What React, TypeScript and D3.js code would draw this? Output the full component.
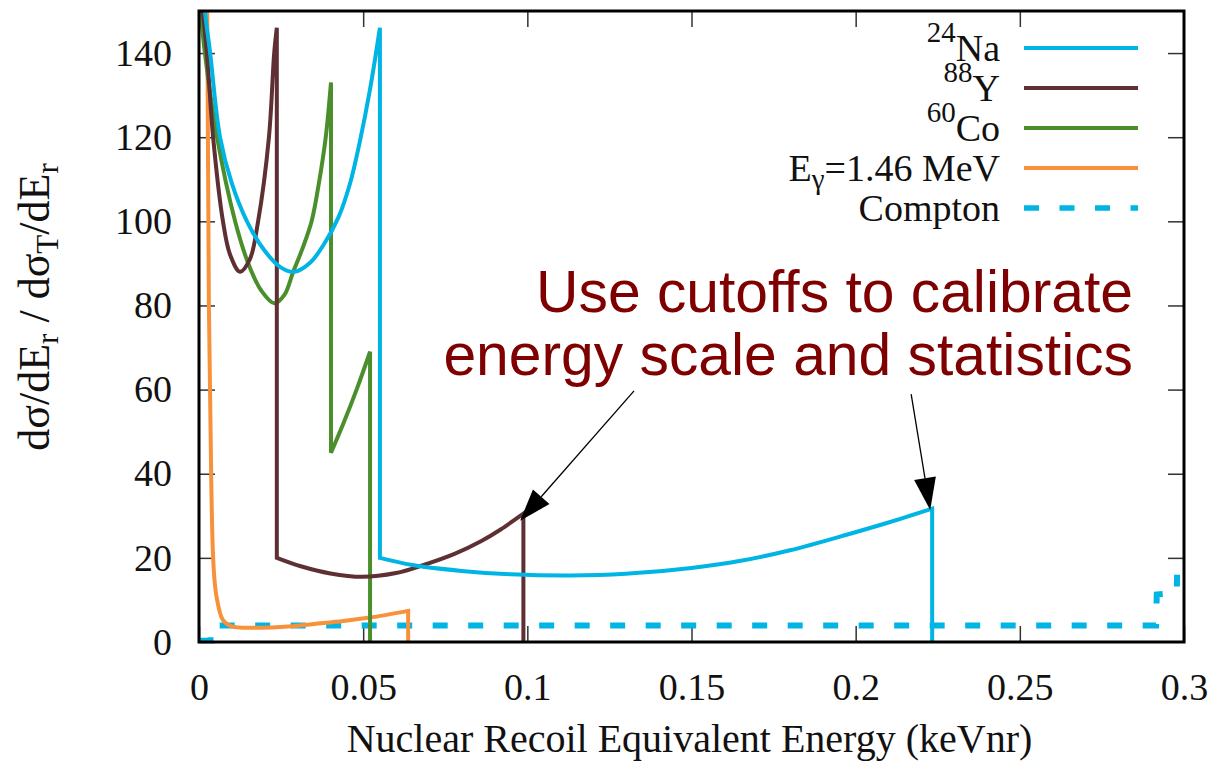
import React, { useEffect, useRef } from 'react'
import * as d3 from 'd3'

// recoil spectra, [E (keVnr), ratio]
const naPoints = [
  [0, 168], [0.0018, 150], [0.0034, 140], [0.0064, 120], [0.010, 109], [0.0146, 100],
  [0.020, 93], [0.025, 89], [0.029, 88], [0.034, 90.3], [0.038, 94.5], [0.0425, 101],
  [0.046, 109], [0.049, 119], [0.052, 131], [0.0551, 146], [0.0551, 20], [0.065, 18.3],
  [0.08, 16.9], [0.095, 16.1], [0.113, 15.8], [0.13, 16.2], [0.15, 17.6], [0.165, 19.3],
  [0.18, 21.8], [0.1986, 25.8], [0.21, 28.4], [0.2233, 31.7], [0.2233, 0]
]
const yPoints = [
  [0, 158], [0.0024, 140], [0.0043, 120], [0.0073, 100], [0.0095, 92], [0.0125, 88],
  [0.0155, 91], [0.018, 100], [0.0213, 120], [0.0229, 140], [0.0237, 146], [0.0237, 20],
  [0.031, 18], [0.04, 16.3], [0.0497, 15.5], [0.06, 16.4], [0.068, 18.2], [0.078, 21],
  [0.086, 24], [0.092, 26.8], [0.0988, 30.5], [0.0988, 0]
]
const coPoints = [
  [0, 154], [0.0018, 140], [0.0055, 120], [0.011, 100], [0.015, 90], [0.019, 83.5],
  [0.023, 80.5], [0.026, 82.5], [0.0287, 88], [0.0315, 93.5], [0.0343, 100], [0.0365, 109],
  [0.0386, 120], [0.0402, 133], [0.0402, 45], [0.044, 52], [0.048, 60], [0.0521, 69], [0.0521, 0]
]
const gammaPoints = [
  [0.0022, 160], [0.0025, 150], [0.0030, 81], [0.0037, 40], [0.0042, 22], [0.0047, 15],
  [0.0054, 10.5], [0.0073, 5.2], [0.010, 3.7], [0.018, 3.4], [0.026, 3.6], [0.035, 4.3],
  [0.044, 5.0], [0.052, 5.8], [0.0637, 7.4], [0.0637, 0]
]
const comptonPoints = [
  [0, 0.3], [0.0035, 0.3], [0.0036, 3.9], [0.2915, 3.9], [0.2917, 11.3], [0.2978, 11.7],
  [0.2979, 16]
]

const xTicks = [0, 0.05, 0.1, 0.15, 0.2, 0.25, 0.3]
const yTicks = [0, 20, 40, 60, 80, 100, 120, 140]

// arrows: [from, to] in data units
const arrows = [
  [[0.1325, 59.7], [0.0978, 28.8]],
  [[0.2169, 58.9], [0.2227, 31.4]]
]

const series = [
  { key: 'na', pts: naPoints, color: '#00b4e4', dash: null, width: 4, label: ['24', 'Na'] },
  { key: 'y', pts: yPoints, color: '#5e3033', dash: null, width: 4, label: ['88', 'Y'] },
  { key: 'co', pts: coPoints, color: '#4b8f2c', dash: null, width: 4, label: ['60', 'Co'] },
  { key: 'g', pts: gammaPoints, color: '#f7923a', dash: null, width: 4, label: null },
  { key: 'c', pts: comptonPoints, color: '#00b4e4', dash: '15 20.5', width: 6, label: null }
]

export default function App() {
  const ref = useRef(null)

  useEffect(() => {
    const W = 1227, H = 761
    const margin = { top: 11, right: 43, bottom: 119, left: 199 }
    const serif = 'Liberation Serif, Times New Roman, serif'

    const root = d3.select(ref.current)
    root.selectAll('*').remove()
    const svg = root.append('svg')
      .attr('width', W)
      .attr('height', H)
      .style('position', 'absolute')
      .style('left', 0)
      .style('top', 0)
      .style('background', '#fff')

    const x = d3.scaleLinear().domain([0, 0.3]).range([margin.left, W - margin.right])
    const y = d3.scaleLinear().domain([0, 150]).range([H - margin.bottom, margin.top])
    const x0 = x(0), x1 = x(0.3), y0 = y(0), y1 = y(150)

    svg.append('defs').append('clipPath').attr('id', 'plotclip')
      .append('rect').attr('x', x0).attr('y', y1).attr('width', x1 - x0).attr('height', y0 - y1)

    // axes, ticks inward on all sides
    const styleAxis = (g) => {
      g.select('.domain').remove()
      g.selectAll('.tick line').attr('stroke', '#333').attr('stroke-width', 1.5)
      g.selectAll('text').attr('font-family', serif).attr('font-size', 38).attr('fill', '#111')
    }
    svg.append('g').attr('transform', `translate(0,${y0})`)
      .call(d3.axisBottom(x).tickValues(xTicks).tickFormat(d3.format('')).tickSize(-16).tickPadding(31))
      .call(styleAxis)
    svg.append('g').attr('transform', `translate(0,${y1})`)
      .call(d3.axisTop(x).tickValues(xTicks.slice(1, -1)).tickFormat(() => '').tickSize(-16))
      .call(styleAxis)
    svg.append('g').attr('transform', `translate(${x0},0)`)
      .call(d3.axisLeft(y).tickValues(yTicks).tickSize(-16).tickPadding(27))
      .call(styleAxis)
    svg.append('g').attr('transform', `translate(${x1},0)`)
      .call(d3.axisRight(y).tickValues(yTicks.slice(1)).tickFormat(() => '').tickSize(-16))
      .call(styleAxis)

    // curves: smooth pieces, joined by straight drops where x repeats
    const smooth = d3.line().x(d => x(d[0])).y(d => y(d[1])).curve(d3.curveCatmullRom.alpha(0.5))
    const pathFor = (pts) => {
      const pieces = []
      let cur = [pts[0]]
      for (let i = 1; i < pts.length; i++) {
        if (pts[i][0] === pts[i - 1][0]) {
          pieces.push(cur)
          cur = [pts[i]]
        } else cur.push(pts[i])
      }
      pieces.push(cur)
      return pieces.map((p, i) => {
        const d = p.length > 1 ? smooth(p) : `M${x(p[0][0])},${y(p[0][1])}`
        return i === 0 ? d : 'L' + d.slice(1)
      }).join('')
    }
    const plot = svg.append('g').attr('clip-path', 'url(#plotclip)')
    series.slice().reverse().forEach(s => {
      plot.append('path')
        .attr('d', s.key === 'c' ? d3.line().x(d => x(d[0])).y(d => y(d[1]))(s.pts) : pathFor(s.pts))
        .attr('fill', 'none')
        .attr('stroke', s.color)
        .attr('stroke-width', s.width)
        .attr('stroke-linejoin', 'miter')
        .attr('stroke-dasharray', s.dash)
    })

    // frame
    svg.append('rect')
      .attr('x', x0).attr('y', y1).attr('width', x1 - x0).attr('height', y0 - y1)
      .attr('fill', 'none').attr('stroke', '#000').attr('stroke-width', 3)

    // legend
    const leg = svg.append('g')
    const rows = [48, 88, 128, 168, 208]
    series.forEach((s, i) => {
      const ry = rows[i]
      leg.append('line')
        .attr('x1', 1024).attr('x2', 1138).attr('y1', ry).attr('y2', ry)
        .attr('stroke', s.color).attr('stroke-width', s.width === 6 ? 5.5 : 4)
        .attr('stroke-dasharray', s.dash)
      const t = leg.append('text')
        .attr('x', 1000).attr('y', ry + 13)
        .attr('text-anchor', 'end')
        .attr('font-family', serif).attr('font-size', 38).attr('fill', '#111')
      if (s.label) {
        t.append('tspan').attr('font-size', 29).attr('dy', -19).text(s.label[0])
        t.append('tspan').attr('dy', 19).text(s.label[1])
      } else if (s.key === 'g') {
        t.append('tspan').text('E')
        t.append('tspan').attr('font-size', 29).attr('dy', 8).text('γ')
        t.append('tspan').attr('dy', -8).text('=1.46 MeV')
      } else {
        t.text('Compton')
      }
    })

    // axis titles
    svg.append('text')
      .attr('x', (x0 + x1) / 2 - 2).attr('y', 752)
      .attr('text-anchor', 'middle')
      .attr('font-family', serif).attr('font-size', 40).attr('fill', '#111')
      .text('Nuclear Recoil Equivalent Energy (keVnr)')

    const yt = svg.append('text')
      .attr('transform', 'translate(49,307) rotate(-90)')
      .attr('text-anchor', 'middle')
      .attr('font-family', serif).attr('font-size', 44).attr('fill', '#111')
    const sub = (txt) => yt.append('tspan').attr('font-size', 31).attr('dy', 9).text(txt)
    const main = (txt) => yt.append('tspan').attr('dy', -9).text(txt)
    yt.append('tspan').text('dσ/dE')
    sub('r')
    main(' / dσ')
    sub('T')
    main('/dE')
    sub('r')

    // annotation
    const note = svg.append('g')
      .attr('font-family', 'Liberation Sans, Arial, sans-serif')
      .attr('font-size', 58.8)
      .attr('fill', '#7f0000')
      .attr('text-anchor', 'end')
    note.append('text').attr('x', 1133).attr('y', 312).text('Use cutoffs to calibrate')
    note.append('text').attr('x', 1133).attr('y', 375).text('energy scale and statistics')

    arrows.forEach(([a, b]) => {
      const ax = x(a[0]), ay = y(a[1]), bx = x(b[0]), by = y(b[1])
      const ang = Math.atan2(by - ay, bx - ax)
      const len = 32, half = 11
      const baseX = bx - len * Math.cos(ang), baseY = by - len * Math.sin(ang)
      svg.append('line')
        .attr('x1', ax).attr('y1', ay).attr('x2', baseX).attr('y2', baseY)
        .attr('stroke', '#000').attr('stroke-width', 1.3)
      const px = -Math.sin(ang) * half, py = Math.cos(ang) * half
      svg.append('path')
        .attr('d', `M${bx},${by}L${baseX + px},${baseY + py}L${baseX - px},${baseY - py}Z`)
        .attr('fill', '#000')
    })
  }, [])

  return <div ref={ref}></div>
}
